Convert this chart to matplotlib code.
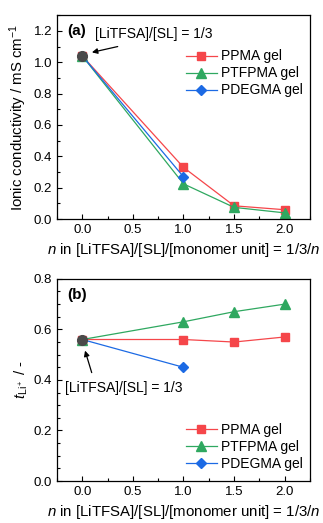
import matplotlib
matplotlib.use('Agg')
import matplotlib.pyplot as plt
from matplotlib.ticker import MultipleLocator

plt.rcParams['font.family'] = ['Liberation Sans', 'DejaVu Sans']
plt.rcParams['mathtext.fontset'] = 'custom'
plt.rcParams['mathtext.rm'] = 'Liberation Sans'
plt.rcParams['mathtext.it'] = 'Liberation Sans:italic'

# Data
n_ppma = [0.0, 1.0, 1.5, 2.0]
n_ptfpma = [0.0, 1.0, 1.5, 2.0]
n_pdegma = [0.0, 1.0]

cond_ppma = [1.04, 0.33, 0.085, 0.06]
cond_ptfpma = [1.04, 0.225, 0.075, 0.04]
cond_pdegma = [1.04, 0.27]

t_ppma = [0.56, 0.56, 0.55, 0.57]
t_ptfpma = [0.56, 0.63, 0.67, 0.70]
t_pdegma = [0.56, 0.45]

base_n = [0.0]
base_cond = [1.04]
base_t = [0.56]

labels = ['PPMA gel', 'PTFPMA gel', 'PDEGMA gel']
red = '#f5464a'
green = '#2fa860'
blue = '#1c6ae4'

fig = plt.figure(figsize=(3.23, 5.23), dpi=100)
ax1 = fig.add_axes([0.1765, 0.581, 0.783, 0.39])
ax2 = fig.add_axes([0.1765, 0.0803, 0.783, 0.3865])

fs = 9.5
fl = 10.8


def draw(ax, yp, yt, yd):
    ax.plot(n_ppma, yp, color=red, lw=0.9, marker='s', ms=6,
            mec=red, label=labels[0])
    ax.plot(n_ptfpma, yt, color=green, lw=0.9, marker='^', ms=6.5,
            mec=green, label=labels[1])
    ax.plot(n_pdegma, yd, color=blue, lw=0.9, marker='D', ms=5.5,
            mec=blue, label=labels[2])


draw(ax1, cond_ppma, cond_ptfpma, cond_pdegma)
ax1.plot(base_n, base_cond, 'o', color='#4a4a4a', ms=7, zorder=5)
draw(ax2, t_ppma, t_ptfpma, t_pdegma)
ax2.plot(base_n, base_t, 'o', color='#4a4a4a', ms=7, zorder=5)

for ax in (ax1, ax2):
    ax.set_xlim(-0.25, 2.25)
    ax.xaxis.set_major_locator(MultipleLocator(0.5))
    ax.xaxis.set_minor_locator(MultipleLocator(0.25))
    ax.tick_params(which='both', direction='in', labelsize=fs, top=False, right=False)
    ax.tick_params(which='major', length=3.5, width=0.8)
    ax.tick_params(which='minor', length=2, width=0.8)
    for s in ax.spines.values():
        s.set_linewidth(0.9)
    ax.set_xlabel(r'$n$ in [LiTFSA]/[SL]/[monomer unit] = 1/3/$n$', fontsize=fl, labelpad=3.5)

ax1.set_ylim(0, 1.3)
ax1.yaxis.set_major_locator(MultipleLocator(0.2))
ax1.yaxis.set_minor_locator(MultipleLocator(0.1))
ax1.set_ylabel(r'Ionic conductivity / mS cm$^{-1}$', fontsize=fl, labelpad=3)

ax2.set_ylim(0, 0.8)
ax2.yaxis.set_major_locator(MultipleLocator(0.2))
ax2.yaxis.set_minor_locator(MultipleLocator(0.05))
ax2.set_ylabel(r'$t_{\mathrm{Li^+}}$ / -', fontsize=fl, labelpad=3)

ax1.text(0.04, 0.955, '(a)', transform=ax1.transAxes, fontsize=11,
         fontweight='bold', va='top')
ax2.text(0.04, 0.955, '(b)', transform=ax2.transAxes, fontsize=11,
         fontweight='bold', va='top')

ax1.text(0.125, 1.18, '[LiTFSA]/[SL] = 1/3', fontsize=10, va='center')
ax1.annotate('', xy=(0.095, 1.063), xytext=(0.35, 1.10),
             arrowprops=dict(arrowstyle='-|>', color='black', lw=0.9,
                             shrinkA=0, shrinkB=0, mutation_scale=8))

ax2.text(-0.17, 0.368, '[LiTFSA]/[SL] = 1/3', fontsize=10, va='center')
ax2.annotate('', xy=(0.027, 0.516), xytext=(0.093, 0.429),
             arrowprops=dict(arrowstyle='-|>', color='black', lw=0.9,
                             shrinkA=0, shrinkB=0, mutation_scale=8))

leg_kw = dict(frameon=False, fontsize=10, handlelength=2.2,
              handletextpad=0.3, labelspacing=0.22, borderaxespad=0.3)
ax1.legend(loc='upper right', bbox_to_anchor=(1.01, 0.88), **leg_kw)
ax2.legend(loc='lower right', bbox_to_anchor=(1.01, 0.0), **leg_kw)

fig.savefig('out.png', dpi=100)
